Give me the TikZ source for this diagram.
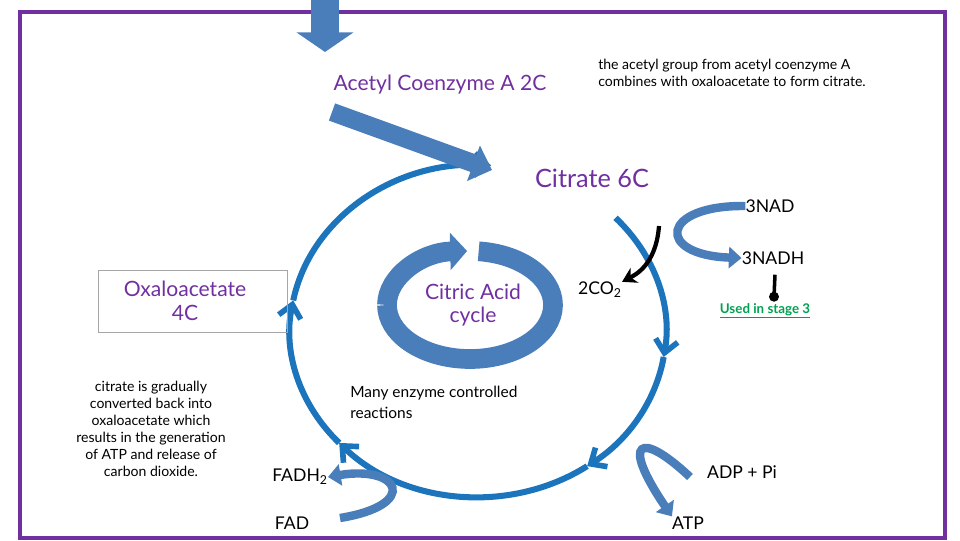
\documentclass[tikz,border=0pt]{standalone}
\usepackage{fontspec}
\setmainfont{Lato}
\usetikzlibrary{arrows.meta, positioning, calc}
\definecolor{framepurple}{HTML}{7030A0}
\definecolor{cycleblue}{HTML}{1C75BC}
\definecolor{blockblue}{HTML}{4A7EBB}
\definecolor{usedgreen}{HTML}{00A050}

\begin{document}
\begin{tikzpicture}[
    x=0.025cm, y=-0.025cm,
    title/.style={text=framepurple, font=\fontsize{15}{17}\selectfont, inner sep=0pt},
    plain/.style={font=\fontsize{12.5}{14}\selectfont, inner sep=0pt},
    note/.style={font=\fontsize{10}{12}\selectfont, align=center, inner sep=0pt},
    cycle/.style={draw=cycleblue, line width=4.3pt, -{Straight Barb[length=9pt, width=16pt, line width=4pt]}},
    block/.style={draw=blockblue, line width=6pt, -{Triangle[length=9pt, width=15pt]}},
    fat/.style={draw=blockblue, line width=13pt, -{Triangle[length=14pt, width=26pt]}}
]
\useasboundingbox (0,0) rectangle (960,540);
\draw[framepurple, line width=3pt] (20,12) rectangle (945,538);

% --- Main cycle ---
\coordinate (c) at (478,331);
\foreach \a/\b in {-43/9, 9/54.5, 54.5/137.6, 137.6/190.6, 190.6/274}
  \draw[cycle] ($(c)+(\a:188 and 166)$) arc[start angle=\a, end angle=\b, x radius=188, y radius=166];

% --- Inner ring ---
\coordinate (ring) at (470,305);
\draw[blockblue, line width=14pt] ($(ring)+(-84:83 and 54)$) arc[start angle=-84, end angle=180, x radius=83, y radius=54];
\draw[blockblue, line width=14pt, -{Triangle[length=12pt, width=26pt]}] ($(ring)+(180:83 and 54)$) arc[start angle=180, end angle=268, x radius=83, y radius=54];

% --- Input arrows ---
\coordinate (top_in) at (325,-5);
\coordinate (top_end) at (325,52);
\draw[fat, line width=20pt, -{Triangle[length=14pt, width=40pt]}] (top_in) -- (top_end);
\coordinate (acetyl_in) at (332,112);
\coordinate (acetyl_end) at (492,170);
\draw[fat] (acetyl_in) -- (acetyl_end);

% --- Labels ---
\node (acetyl) [title] at (440,85) {Acetyl Coenzyme A 2C};
\node (info) [note, align=left, anchor=west] at (598,73) {the acetyl group from acetyl coenzyme A\\combines with oxaloacetate to form citrate.};
\node (citrate) [title, font=\fontsize{18}{20}\selectfont] at (592,178) {Citrate 6C};
\node (cac) [title, align=center] at (473,305) {Citric Acid\\cycle};
\draw[gray!70, thin] (98,270) rectangle (287,332);
\node (oxa) [title, align=center] at (185,301) {Oxaloacetate\\4C};
\node (leftnote) [note] at (151,429) {citrate is gradually\\converted back into\\oxaloacetate which\\results in the generation\\of ATP and release of\\carbon dioxide.};
\node (enzyme) [note, font=\fontsize{11}{15}\selectfont, align=left, anchor=west] at (350,402) {Many enzyme controlled\\reactions};

\node (nad) [plain] at (770,206) {3NAD};
\node (nadh) [plain] at (773,258) {3NADH};
\node (used) [note, text=usedgreen, font=\bfseries\fontsize{9.5}{11}\selectfont] at (765,311) {\underline{Used in stage 3}};
\node (co2) [plain] at (600,290) {2CO\textsubscript{2}};
\node (fadh) [plain] at (300,477) {FADH\textsubscript{2}};
\node (fad) [plain] at (292,523) {FAD};
\node (adp) [plain] at (742,472) {ADP + Pi};
\node (atp) [plain] at (688,523) {ATP};

% --- Side arrows ---
\draw[block] (nad.west) .. controls (660,205) and (655,255) .. (nadh.west);
\draw[black, line width=3pt, -{Stealth[length=10pt, width=12pt]}] (659,226) .. controls (656,265) and (635,275) .. (co2.north east);
\draw[black, line width=2.5pt] (nadh.south) ++(2,10) coordinate (stick) -- ++(-1,22) coordinate (dot);
\fill (dot) circle (5);
\draw[block] (340,518) .. controls (420,505) and (400,465) .. (fadh.east);
\draw[block] (690,477) .. controls (640,430) and (620,440) .. (atp.north west);
\end{tikzpicture}
\end{document}
